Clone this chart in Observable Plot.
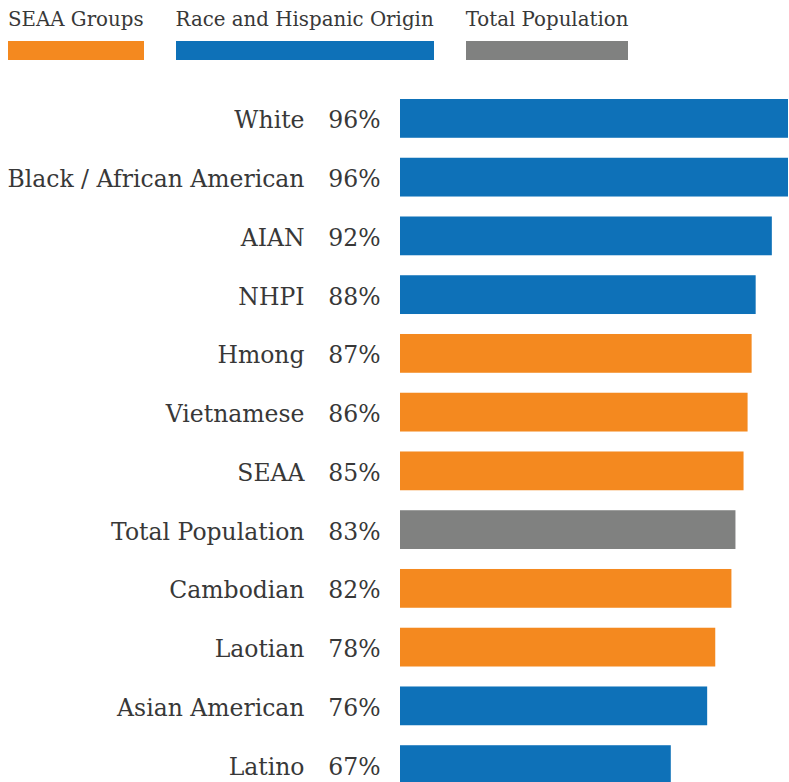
<!DOCTYPE html>
<html>
<head>
<meta charset="utf-8">
<script src="https://cdn.jsdelivr.net/npm/d3@7"></script>
<script src="https://cdn.jsdelivr.net/npm/@observablehq/plot@0.6"></script>
<style>
  html, body { margin: 0; padding: 0; background: #fff; }
  body { width: 789px; height: 782px; overflow: hidden; font-family: "DejaVu Serif", serif; color: #333; }
  #legend { display: flex; gap: 32px; padding-left: 8px; height: 80px; box-sizing: border-box; }
  .item { display: inline-block; }
  .item .lab { font-family: "DejaVu Serif", serif; font-size: 19.8px; line-height: 22px; padding-top: 9px; white-space: nowrap; color: #383838; }
  .item .sw { height: 19px; margin-top: 10px; width: 100%; }
  #chart svg { display: block; }
</style>
</head>
<body>
<div id="legend"></div>
<div id="chart"></div>
<script>
const names = ["White", "Black / African American", "AIAN", "NHPI", "Hmong", "Vietnamese", "SEAA", "Total Population", "Cambodian", "Laotian", "Asian American", "Latino"];
const values = [96, 96, 92, 88, 87, 86, 85, 83, 82, 78, 76, 67];
const groupsOf = ["Race and Hispanic Origin", "Race and Hispanic Origin", "Race and Hispanic Origin", "Race and Hispanic Origin", "SEAA Groups", "SEAA Groups", "SEAA Groups", "Total Population", "SEAA Groups", "SEAA Groups", "Race and Hispanic Origin", "Race and Hispanic Origin"];
const legendGroups = ["SEAA Groups", "Race and Hispanic Origin", "Total Population"];
const legendColors = ["#F4891F", "#0E71B8", "#808180"];

const data = names.map((n, i) => ({name: n, value: values[i], group: groupsOf[i]}));

const legend = document.getElementById("legend");
legendGroups.forEach((g, i) => {
  const it = document.createElement("div");
  it.className = "item";
  const lab = document.createElement("div");
  lab.className = "lab";
  lab.textContent = g;
  const sw = document.createElement("div");
  sw.className = "sw";
  sw.style.background = legendColors[i];
  it.appendChild(lab);
  it.appendChild(sw);
  legend.appendChild(it);
});

const chart = Plot.plot({
  width: 789,
  height: 704,
  marginTop: 19,
  marginBottom: 0,
  marginLeft: 400,
  marginRight: 1,
  style: {fontFamily: "DejaVu Serif, serif", fontSize: "23.5px", color: "#383838", background: "#fff"},
  x: {domain: [0, 96], axis: null},
  y: {domain: names, paddingInner: 0.34, paddingOuter: 0, round: false, label: null},
  color: {domain: legendGroups, range: legendColors},
  marks: [
    Plot.barX(data, {x: "value", y: "name", fill: "group"}),
    Plot.axisY({tickSize: 0, tickPadding: 96, label: null, fontSize: 23.5, dy: 2}),
    Plot.text(data, {y: "name", text: d => d.value + "%", frameAnchor: "left", textAnchor: "end", dx: -20, dy: 2, fill: "#383838", fontSize: 23.5})
  ]
});
document.getElementById("chart").appendChild(chart);
</script>
</body>
</html>
